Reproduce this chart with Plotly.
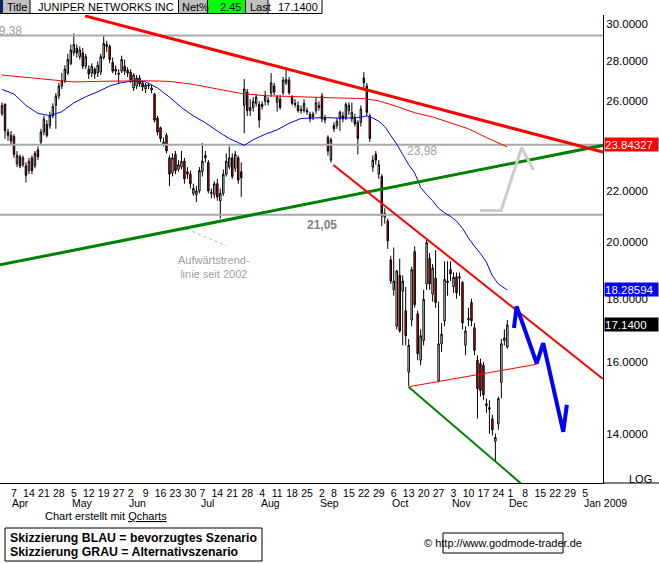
import math
import pandas as pd
import plotly.graph_objects as go

# ---------------- calendar (trading days, x = trading-day index, 0 = 7 Apr 2008) ----------------
HOLIDAYS = ["2008-05-26", "2008-07-04", "2008-09-01", "2008-11-27"]
hist = pd.bdate_range("2008-04-01", "2008-11-28")
hist = hist[~hist.isin(pd.to_datetime(HOLIDAYS))]
future = pd.bdate_range("2008-12-01", "2009-01-09")
days = hist.append(future)
ORIGIN = days.get_loc(pd.Timestamp("2008-04-07"))
XPOS = {d: k - ORIGIN for k, d in enumerate(days)}

# ---------------- OHLC ----------------
OPEN = [25.40, 25.85, 24.55, 24.40, 24.35, 23.15, 23.45, 23.10, 23.05, 22.85,
        23.40, 23.05, 23.75, 24.10, 24.55, 24.90, 24.85, 25.30, 25.80, 26.25,
        26.75, 27.00, 27.40, 27.90, 28.45, 28.70, 28.25, 28.45, 27.75, 27.60,
        27.40, 27.60, 27.40, 27.45, 28.20, 28.90, 28.80, 27.95, 27.50, 27.40,
        27.50, 27.75, 27.55, 27.45, 26.65, 26.75, 27.15, 26.90, 26.60, 26.80,
        26.55, 26.35, 25.20, 24.75, 24.00, 24.40, 23.40, 22.75, 23.55, 22.90,
        23.00, 23.25, 22.80, 22.70, 21.90, 21.85, 22.00, 22.80, 23.50, 23.20,
        21.95, 21.85, 22.30, 21.60, 21.90, 22.70, 23.00, 23.40, 22.95, 23.40,
        22.80, 25.80, 26.45, 25.55, 25.70, 25.90, 25.85, 25.75, 26.00, 26.05,
        26.40, 26.75, 25.95, 26.10, 26.42, 26.90, 27.05, 26.20, 25.90, 25.80,
        25.60, 25.55, 25.55, 25.38, 25.25, 25.55, 25.70, 26.26, 25.20, 24.30,
        23.30, 24.85, 24.85, 25.16, 25.30, 25.23, 25.55, 25.16, 25.23, 25.00,
        25.00, 27.15, 26.75, 25.30, 23.00, 23.56, 22.70, 22.60, 20.95, 20.80,
        19.35, 18.30, 17.10, 18.80, 18.25, 17.60, 15.70, 17.30, 19.65, 17.50,
        16.05, 16.65, 18.50, 19.40, 18.15, 18.70, 15.45, 16.55, 17.27, 18.60,
        19.00, 18.40, 18.75, 18.70, 18.55, 16.50, 17.30, 17.87, 17.05, 16.05,
        15.95, 15.90, 14.80, 14.70, 14.39, 13.80, 14.26, 15.40, 16.65, 16.45]
HIGH = [25.95, 25.90, 24.70, 24.60, 24.45, 23.70, 23.55, 23.50, 23.20, 23.40,
        23.50, 23.70, 23.90, 24.70, 25.30, 25.10, 25.50, 25.90, 26.40, 26.90,
        27.40, 27.80, 28.40, 28.90, 29.50, 28.90, 28.80, 28.70, 28.40, 27.80,
        27.90, 27.70, 28.00, 28.40, 29.35, 29.10, 28.90, 28.20, 27.80, 27.60,
        28.30, 28.10, 27.70, 27.60, 27.40, 27.30, 27.30, 27.00, 26.90, 26.90,
        26.80, 26.40, 25.30, 24.80, 24.30, 24.50, 23.50, 23.60, 23.70, 23.30,
        23.70, 23.40, 23.00, 22.85, 22.30, 22.20, 23.00, 24.05, 23.70, 23.30,
        22.10, 22.40, 22.50, 22.10, 22.90, 23.60, 23.90, 23.60, 23.70, 23.50,
        23.20, 27.10, 26.60, 26.10, 26.20, 26.35, 26.00, 26.00, 26.50, 26.20,
        27.40, 26.90, 26.30, 26.30, 27.20, 27.60, 27.20, 26.30, 26.10, 26.00,
        25.80, 26.10, 25.70, 25.50, 25.50, 26.20, 26.00, 26.40, 25.35, 24.40,
        24.30, 25.00, 25.20, 25.55, 25.50, 25.95, 25.95, 25.93, 25.40, 25.10,
        25.80, 27.45, 26.90, 25.40, 23.50, 23.70, 23.30, 22.70, 21.30, 20.90,
        19.50, 19.80, 19.00, 19.40, 18.80, 18.40, 16.70, 19.10, 19.85, 17.60,
        17.00, 18.30, 20.15, 19.60, 19.20, 19.70, 17.90, 17.20, 19.30, 19.30,
        19.30, 18.90, 18.90, 18.90, 18.60, 17.10, 17.70, 18.00, 17.20, 16.20,
        16.10, 16.00, 14.95, 14.90, 14.50, 14.00, 15.00, 16.70, 17.00, 17.30]
LOW = [25.30, 24.25, 24.15, 24.00, 23.40, 23.00, 22.95, 23.00, 22.35, 22.70,
       22.70, 22.95, 23.30, 24.00, 24.40, 24.30, 24.70, 25.20, 24.70, 26.10,
       26.60, 26.90, 27.30, 27.80, 28.30, 28.20, 28.10, 27.60, 27.60, 27.10,
       27.20, 27.10, 27.20, 27.30, 28.10, 28.50, 27.90, 27.40, 27.30, 26.90,
       27.40, 27.30, 27.20, 26.90, 26.50, 26.60, 26.70, 26.50, 26.40, 26.60,
       26.40, 25.00, 24.40, 24.10, 23.90, 23.60, 22.20, 22.60, 22.70, 22.80,
       22.90, 22.30, 22.50, 22.10, 21.80, 21.55, 21.90, 22.60, 23.20, 21.90,
       21.70, 21.70, 21.60, 20.90, 21.80, 22.60, 22.90, 22.50, 22.80, 22.30,
       21.75, 24.50, 25.30, 25.30, 25.50, 25.75, 24.75, 25.60, 25.80, 25.80,
       26.20, 26.30, 25.50, 25.60, 26.30, 26.80, 26.30, 25.80, 25.70, 25.45,
       25.40, 25.45, 25.35, 25.00, 25.10, 25.40, 25.55, 25.00, 24.95, 23.50,
       23.20, 24.55, 24.70, 24.60, 25.00, 25.10, 25.35, 25.00, 24.80, 23.55,
       24.80, 26.60, 25.30, 24.10, 22.80, 23.10, 22.50, 20.60, 20.70, 19.75,
       18.50, 18.10, 17.00, 16.90, 16.50, 16.50, 15.30, 17.10, 17.70, 16.05,
       15.90, 16.50, 18.30, 18.30, 17.90, 17.70, 15.40, 16.30, 17.10, 18.10,
       18.60, 18.20, 18.00, 18.10, 17.00, 16.20, 17.10, 17.10, 16.20, 14.40,
       15.00, 14.90, 14.55, 14.00, 13.95, 13.30, 14.10, 14.95, 16.50, 16.40]
CLOSE = [25.80, 24.60, 24.40, 24.15, 23.55, 23.50, 23.05, 23.40, 22.65, 23.25,
         22.85, 23.60, 23.45, 24.55, 25.15, 24.40, 25.30, 25.75, 26.25, 26.75,
         27.00, 27.60, 28.10, 28.60, 28.90, 28.45, 28.60, 27.75, 28.25, 27.35,
         27.75, 27.35, 27.80, 28.25, 28.95, 28.80, 28.10, 27.50, 27.60, 27.35,
         28.10, 27.50, 27.40, 27.05, 27.30, 27.15, 26.85, 26.70, 26.80, 26.75,
         26.65, 25.10, 24.55, 24.25, 24.10, 23.70, 22.70, 23.40, 22.85, 23.10,
         23.25, 22.50, 22.70, 22.30, 22.10, 22.00, 22.85, 23.25, 23.40, 22.00,
         21.90, 22.30, 21.75, 21.90, 22.70, 23.25, 23.40, 22.60, 23.55, 22.45,
         22.55, 26.60, 25.55, 25.70, 26.00, 26.20, 25.10, 25.85, 26.30, 25.95,
         26.90, 26.45, 26.20, 25.70, 27.05, 27.07, 26.42, 25.90, 25.85, 25.55,
         25.55, 25.90, 25.50, 25.16, 25.38, 25.93, 25.80, 25.16, 25.10, 23.70,
         24.20, 24.70, 25.05, 25.47, 25.16, 25.85, 25.80, 25.47, 24.93, 24.26,
         25.62, 26.91, 25.47, 24.26, 23.30, 23.30, 23.10, 21.00, 21.10, 20.05,
         18.60, 18.60, 18.95, 16.95, 18.60, 16.80, 16.50, 19.00, 17.80, 16.25,
         16.80, 17.98, 19.98, 18.50, 19.05, 17.87, 16.55, 16.85, 18.66, 18.55,
         18.85, 18.73, 18.20, 18.75, 17.20, 16.95, 17.35, 17.27, 16.35, 15.22,
         15.17, 15.05, 14.75, 14.65, 14.10, 13.90, 14.94, 16.55, 16.73, 17.14]

# ---------------- moving averages (trading-day index, value) ----------------
BLUE_MA_X = [-4, 0, 4, 8, 12, 16, 20, 24, 28, 32, 36, 40, 44, 48, 52, 56, 60, 64, 68, 72,
             75, 77, 80, 84, 88, 92, 96, 100, 104, 108, 112, 116, 118, 120, 122, 124, 126, 128, 130, 132,
             134, 136, 138, 140, 142, 144, 146, 148, 150, 152, 154, 156, 158, 160, 162, 164, 165]
BLUE_MA_Y = [26.58, 26.35, 25.8, 25.42, 25.31, 25.5, 25.92, 26.22, 26.46, 26.75,
             26.92, 27.0, 26.96, 26.65, 26.2, 25.7, 25.3, 24.98, 24.6, 24.25,
             24.07, 23.95, 24.2, 24.45, 24.65, 24.95, 25.18, 25.2, 25.22, 25.2,
             25.2, 25.24, 25.3, 25.2, 25.05, 24.8, 24.42, 24.0, 23.55, 23.1,
             22.75, 22.15, 21.85, 21.6, 21.3, 21.12, 20.98, 20.8, 20.52, 20.15,
             19.85, 19.58, 19.27, 18.78, 18.5, 18.36, 18.29]
RED_MA_X = [-4, 8, 20, 32, 44, 52, 60, 68, 76, 84, 96, 108, 117, 122, 128, 134, 140, 146, 152, 158, 162, 165]
RED_MA_Y = [27.3, 27.14, 26.95, 26.99, 27.01, 26.98, 26.83, 26.6, 26.38, 26.27, 26.2,
            26.16, 26.13, 26.02, 25.75, 25.45, 25.25, 24.98, 24.7, 24.3, 24.05, 23.88]

# ---------------- drawn lines (trading-day index, price) ----------------
LEVELS = [29.38, 23.98, 21.05]
LEVEL_TEXT = ["29,38", "23,98", "21,05"]
RESIST_X, RESIST_Y = [23.75, 197.0], [30.48, 23.65]
SUPPORT_X, SUPPORT_Y = [-4.7, 197.0], [19.17, 23.95]
CHAN_UP_X, CHAN_UP_Y = [106.8, 197.0], [23.09, 15.50]
CHAN_LOW_X, CHAN_LOW_Y = [131.9, 172.0], [15.28, 12.61]
MID_X, MID_Y = [132.2, 174.8], [15.28, 15.93]
OLD_X, OLD_Y = [57.8, 71.1], [20.49, 19.86]
BLUE_PATH_X = [167.2, 168.1, 174.8, 177.0, 183.7, 184.9]
BLUE_PATH_Y = [17.04, 17.74, 15.96, 16.57, 14.05, 14.77]
GRAY_PATH_X = [155.9, 162.9, 169.8, 173.7]
GRAY_PATH_Y = [21.21, 21.21, 23.85, 22.88]

Y_TICKS = [14, 16, 18, 20, 22, 24, 26, 28, 30]
LAST_RED, LAST_BLUE, LAST_PRICE = 23.84327, 18.28594, 17.14
NET_PCT = 2.45

FONT = "Liberation Sans, Arial, sans-serif"
W, H = 659, 563
L_M, R_M, T_M, B_M = 0, 56, 15, 80
PW, PH = W - L_M - R_M, H - T_M - B_M


def PX(px):
    return (px - L_M) / PW


def PY(py):
    return (T_M + PH - py) / PH


cx = [XPOS[d] for d in hist]

# ticks
tick_days = [d for k, d in enumerate(days)
             if k > 0 and d.weekday() <= days[k - 1].weekday()
             and pd.Timestamp("2008-04-07") <= d <= pd.Timestamp("2009-01-05")]
tickvals = [XPOS[d] for d in tick_days]
ticktext = [str(d.day) for d in tick_days]

fig = go.Figure()

# level lines
for lv in LEVELS:
    fig.add_trace(go.Scatter(x=[-6, 199], y=[lv, lv], mode="lines",
                             line=dict(color="#a9a9a9", width=2), hoverinfo="skip", showlegend=False))

# moving averages
fig.add_trace(go.Scatter(x=RED_MA_X, y=RED_MA_Y, mode="lines", line=dict(color="#ff0000", width=1),
                         hoverinfo="skip", showlegend=False))
fig.add_trace(go.Scatter(x=BLUE_MA_X, y=BLUE_MA_Y, mode="lines", line=dict(color="#0000ff", width=1),
                         hoverinfo="skip", showlegend=False))

# candles
fig.add_trace(go.Candlestick(
    x=cx, open=OPEN, high=HIGH, low=LOW, close=CLOSE,
    increasing=dict(line=dict(color="black", width=1), fillcolor="white"),
    decreasing=dict(line=dict(color="black", width=1), fillcolor="#ff0000"),
    whiskerwidth=0, hoverinfo="skip", showlegend=False))


def add_line(xs, ys, color, width, dash="solid"):
    fig.add_trace(go.Scatter(x=xs, y=ys, mode="lines", line=dict(color=color, width=width, dash=dash),
                             hoverinfo="skip", showlegend=False))


add_line(OLD_X, OLD_Y, "#b4b4b4", 1, "dot")
add_line(SUPPORT_X, SUPPORT_Y, "#008000", 3)
add_line(RESIST_X, RESIST_Y, "#ff0000", 3)
add_line(CHAN_UP_X, CHAN_UP_Y, "#ff0000", 2)
add_line(CHAN_LOW_X, CHAN_LOW_Y, "#008000", 2)
add_line(MID_X, MID_Y, "#ff0000", 1)
add_line(GRAY_PATH_X, GRAY_PATH_Y, "#cccccc", 3)
add_line(BLUE_PATH_X, BLUE_PATH_Y, "#0000ff", 4)

annotations = []
shapes = []

# level labels
annotations.append(dict(x=3.4, y=math.log10(LEVELS[0]), xref="x", yref="y", text=LEVEL_TEXT[0],
                        xanchor="right", yanchor="middle", yshift=5, showarrow=False,
                        font=dict(family=FONT, size=12, color="#a0a0a0")))
annotations.append(dict(x=130.8, y=math.log10(LEVELS[1]), xref="x", yref="y", text=LEVEL_TEXT[1],
                        xanchor="left", yanchor="middle", yshift=-6, showarrow=False,
                        font=dict(family=FONT, size=12, color="#a0a0a0")))
annotations.append(dict(x=97.3, y=math.log10(LEVELS[2]), xref="x", yref="y", text="<b>" + LEVEL_TEXT[2] + "</b>",
                        xanchor="left", yanchor="middle", yshift=-10, showarrow=False,
                        font=dict(family=FONT, size=12, color="#808080")))
annotations.append(dict(x=PX(214), y=PY(267), xref="paper", yref="paper",
                        text="Aufwärtstrend-<br>linie seit 2002", align="center", showarrow=False,
                        xanchor="center", yanchor="middle",
                        font=dict(family=FONT, size=11, color="#a0a0a0")))

# month labels
seen = set()
for d in tick_days:
    key = (d.year, d.month)
    if key in seen:
        continue
    seen.add(key)
    label = d.strftime("%b") + (" 2009" if d.year == 2009 else "")
    annotations.append(dict(x=XPOS[d] - 1.2, y=PY(503), xref="x", yref="paper", text=label,
                            xanchor="left", yanchor="middle", showarrow=False,
                            font=dict(family=FONT, size=10.5, color="black")))

# right value boxes
for val, bg, txt, ys in [(LAST_RED, "#ff0000", f"{LAST_RED:.5f}", 3),
                         (LAST_BLUE, "#0000ff", f"{LAST_BLUE:.5f}", 1),
                         (LAST_PRICE, "#000000", f"{LAST_PRICE:.4f}", 0)]:
    annotations.append(dict(x=1 + 1 / PW, y=math.log10(val), xref="paper", yref="y", text=txt,
                            xanchor="left", yanchor="middle", yshift=ys, showarrow=False,
                            bgcolor=bg, width=53, height=13, align="left", borderpad=0,
                            font=dict(family=FONT, size=11.5, color="white")))

annotations.append(dict(x=PX(640), y=PY(479), xref="paper", yref="paper", text="LOG",
                        xanchor="center", yanchor="middle", showarrow=False,
                        font=dict(family=FONT, size=11, color="black")))

# header
hdr_y0, hdr_y1 = PY(13.5), PY(0)
for x0, x1, col in [(0, 3, "#0a246a"), (3, 30, "#c0c0c0"), (179, 207, "#c0c0c0"),
                    (208, 245, "#00ff00"), (246, 268, "#c0c0c0")]:
    shapes.append(dict(type="rect", xref="paper", yref="paper", x0=PX(x0), x1=PX(x1), y0=hdr_y0, y1=hdr_y1,
                       fillcolor=col, line=dict(width=0), layer="above"))
shapes.append(dict(type="line", xref="paper", yref="paper", x0=0, x1=PX(322), y0=hdr_y0, y1=hdr_y0,
                   line=dict(color="black", width=1)))
for xv in [30, 178.5, 207.5, 245.5, 268, 322]:
    shapes.append(dict(type="line", xref="paper", yref="paper", x0=PX(xv), x1=PX(xv), y0=hdr_y0, y1=hdr_y1,
                       line=dict(color="black", width=1)))
hy = PY(7)
for txt, xv, anc in [("Title", 5, "left"), ("JUNIPER NETWORKS INC", 176, "right"), ("Net%", 180, "left"),
                     (f"{NET_PCT:.2f}", 243, "right"), ("Last", 248, "left"), (f"{LAST_PRICE:.4f}", 320, "right")]:
    annotations.append(dict(x=PX(xv), y=hy, xref="paper", yref="paper", text=txt, xanchor=anc,
                            yanchor="middle", showarrow=False, font=dict(family=FONT, size=11, color="black")))

# bottom axis extension line
shapes.append(dict(type="line", xref="paper", yref="paper", x0=1, x1=PX(659), y0=0, y1=0,
                   line=dict(color="black", width=1)))

# footer
annotations.append(dict(x=PX(106), y=PY(516), xref="paper", yref="paper",
                        text="Chart erstellt mit <u>Qcharts</u>", xanchor="center", yanchor="middle",
                        showarrow=False, font=dict(family=FONT, size=11, color="black")))
shapes.append(dict(type="rect", xref="paper", yref="paper", x0=PX(5), x1=PX(262), y0=PY(561), y1=PY(528),
                   line=dict(color="black", width=1), fillcolor="rgba(0,0,0,0)"))
annotations.append(dict(x=PX(8), y=PY(538), xref="paper", yref="paper",
                        text="<b>Skizzierung BLAU = bevorzugtes Szenario</b>", xanchor="left", yanchor="middle",
                        showarrow=False, font=dict(family=FONT, size=12.3, color="black")))
annotations.append(dict(x=PX(8), y=PY(552), xref="paper", yref="paper",
                        text="<b>Skizzierung GRAU = Alternativszenario</b>", xanchor="left", yanchor="middle",
                        showarrow=False, font=dict(family=FONT, size=12.3, color="black")))
shapes.append(dict(type="rect", xref="paper", yref="paper", x0=PX(443), x1=PX(563), y0=PY(553), y1=PY(533),
                   line=dict(color="black", width=1), fillcolor="rgba(0,0,0,0)"))
annotations.append(dict(x=PX(503), y=PY(543), xref="paper", yref="paper",
                        text="© http://www.godmode-trader.de", xanchor="center", yanchor="middle",
                        showarrow=False, font=dict(family=FONT, size=11, color="black")))

fig.update_layout(
    width=W, height=H, margin=dict(l=L_M, r=R_M, t=T_M, b=B_M, pad=0),
    paper_bgcolor="white", plot_bgcolor="white", showlegend=False,
    annotations=annotations, shapes=shapes,
    xaxis=dict(range=[-14 / 2.99, 589 / 2.99], tickmode="array", tickvals=tickvals, ticktext=ticktext,
               showgrid=False, zeroline=False, showline=True, linecolor="black", linewidth=1,
               ticks="", tickfont=dict(family=FONT, size=10.5, color="black"), rangeslider=dict(visible=False),
               fixedrange=True),
    yaxis=dict(type="log", range=[math.log10(12.77), math.log10(30.53)], side="right",
               tickmode="array", tickvals=Y_TICKS, ticktext=[f"{v:.4f}" for v in Y_TICKS],
               showgrid=False, zeroline=False, showline=True, linecolor="black", linewidth=1,
               ticks="", tickfont=dict(family=FONT, size=11.5, color="black"), fixedrange=True),
)

fig.write_html("out.html", config={"displayModeBar": False},
               post_script="document.body.style.margin='0px';document.body.style.overflow='hidden';")
